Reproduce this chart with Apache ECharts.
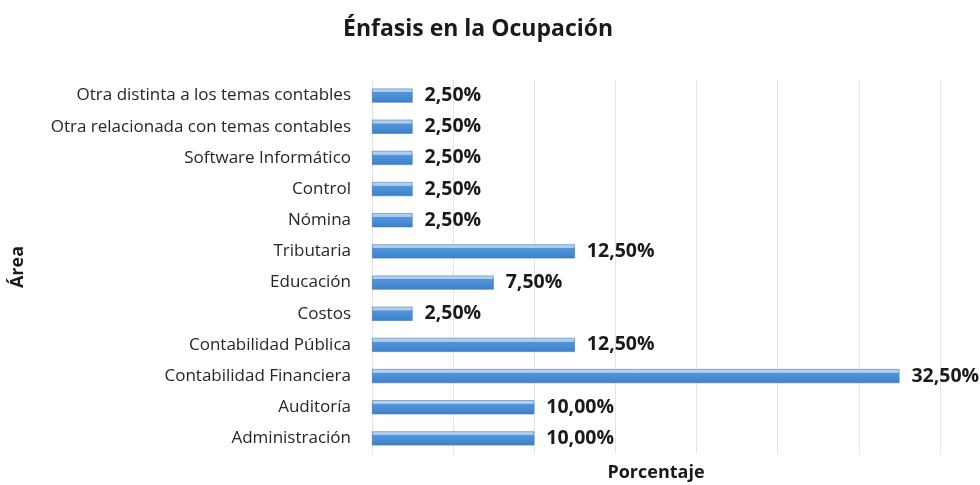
<!DOCTYPE html>
<html>
<head>
<meta charset="utf-8">
<script src="https://cdn.jsdelivr.net/npm/echarts@6/dist/echarts.min.js"></script>
<style>
  html, body { margin: 0; padding: 0; background: #fff; }
  #chart { width: 980px; height: 485px; }
</style>
</head>
<body>
<div id="chart"></div>
<script>
// categories listed bottom to top
const areas = [
  'Administración',
  'Auditoría',
  'Contabilidad Financiera',
  'Contabilidad Pública',
  'Costos',
  'Educación',
  'Tributaria',
  'Nómina',
  'Control',
  'Software Informático',
  'Otra relacionada con temas contables',
  'Otra distinta a los temas contables'
];
const percentages = [10, 10, 32.5, 12.5, 2.5, 7.5, 12.5, 2.5, 2.5, 2.5, 2.5, 2.5];

const font = 'Open Sans';

const chart = echarts.init(document.getElementById('chart'));
chart.setOption({
  animation: false,
  title: {
    text: 'Énfasis en la Ocupación',
    left: 338,
    top: 13,
    textStyle: { fontFamily: font, fontSize: 23, fontWeight: 'bold', color: '#1a1a1a' }
  },
  grid: { left: 372, right: 40, top: 80, bottom: 31, outerBoundsMode: 'none' },
  xAxis: {
    type: 'value',
    min: 0,
    max: 35,
    interval: 5,
    name: 'Porcentaje',
    nameLocation: 'middle',
    nameGap: 10,
    nameTextStyle: { fontFamily: font, fontSize: 18, fontWeight: 'bold', color: '#1a1a1a' },
    axisLabel: { show: false },
    axisLine: { show: false },
    axisTick: { show: false },
    splitLine: { lineStyle: { color: '#e4e4e4' } }
  },
  yAxis: {
    type: 'category',
    data: areas,
    name: 'Área',
    nameLocation: 'middle',
    nameGap: 345,
    nameTextStyle: { fontFamily: font, fontSize: 18, fontWeight: 'bold', color: '#1a1a1a' },
    axisLine: { show: false },
    axisTick: { show: false },
    axisLabel: { fontFamily: font, fontSize: 17, color: '#262626', margin: 21 }
  },
  series: [{
    type: 'bar',
    data: percentages,
    barWidth: 14,
    itemStyle: {
      color: new echarts.graphic.LinearGradient(0, 0, 0, 1, [
        { offset: 0, color: '#c4daf2' },
        { offset: 0.26, color: '#a3c5ea' },
        { offset: 0.28, color: '#5096dd' },
        { offset: 1, color: '#3f80c8' }
      ]),
      borderColor: '#3a74b5',
      borderWidth: 0.6
    },
    label: {
      show: true,
      position: 'right',
      distance: 12,
      fontFamily: font,
      fontSize: 19.5,
      fontWeight: 'bold',
      color: '#1a1a1a',
      formatter: p => p.value.toFixed(2).replace('.', ',') + '%'
    }
  }]
});
</script>
</body>
</html>
